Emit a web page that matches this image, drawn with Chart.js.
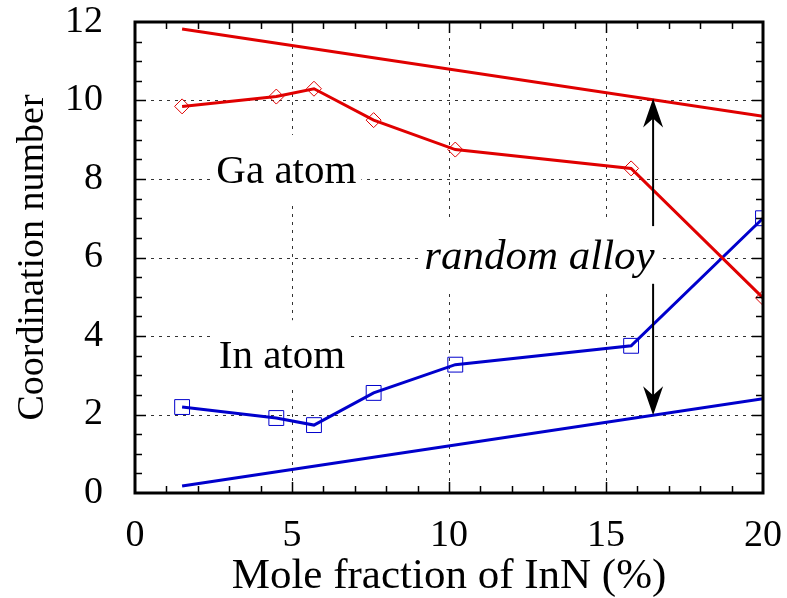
<!DOCTYPE html>
<html>
<head>
<meta charset="utf-8">
<script src="https://cdn.jsdelivr.net/npm/chart.js@4.4.0/dist/chart.umd.min.js"></script>
<style>
    html, body { margin: 0; padding: 0; background: #fff; }
</style>
</head>
<body>
<canvas id="chart" width="787" height="598"></canvas>
<script>
// mole fraction of InN (%) where the coordination numbers were computed
const moleFraction = [1.5, 4.5, 5.7, 7.6, 10.2, 15.8, 20];
const gaAtom = [9.85, 10.1, 10.3, 9.5, 8.75, 8.27, 4.97];
const inAtom = [2.19, 1.91, 1.73, 2.55, 3.27, 3.75, 7.0];

// random alloy reference lines
const randomFraction = [1.5, 20];
const gaRandom = [11.82, 9.6];
const inRandom = [0.18, 2.4];

// arrow between the random alloy lines
const arrowX = 16.5;
const arrowUp = [6.8, 10.05];
const arrowDown = [5.33, 1.98];

const xTicks = [0, 5, 10, 15, 20];
const yTicks = [0, 2, 4, 6, 8, 10, 12];

const serif = 'Liberation Serif';
const red = '#e00000';
const blue = '#0000cc';

const pts = (xs, ys) => xs.map((x, i) => ({ x: x, y: ys[i] }));

// text labels inside the plot: [text, x value, y value of baseline, italic, size]
const notes = [
    ['Ga atom', 4.82, 7.9, false, 41],
    ['In atom', 4.68, 3.18, false, 41],
    ['random alloy', 12.88, 5.7, true, 43],
];

const frame = {
    id: 'frame',
    beforeDatasetsDraw(chart) {
        const { ctx, chartArea: a, scales: { x, y } } = chart;
        ctx.save();
        ctx.strokeStyle = '#333';
        ctx.lineWidth = 1;
        ctx.setLineDash([3, 5]);
        xTicks.slice(1, -1).forEach(v => {
            const px = Math.round(x.getPixelForValue(v)) + 0.5;
            ctx.beginPath(); ctx.moveTo(px, a.top); ctx.lineTo(px, a.bottom); ctx.stroke();
        });
        yTicks.slice(1, -1).forEach(v => {
            const py = Math.round(y.getPixelForValue(v)) + 0.5;
            ctx.beginPath(); ctx.moveTo(a.left, py); ctx.lineTo(a.right, py); ctx.stroke();
        });
        ctx.setLineDash([]);

        // labels sit on white boxes that hide the grid
        ctx.textAlign = 'center';
        ctx.textBaseline = 'alphabetic';
        notes.forEach(([text, vx, vy, italic, size]) => {
            ctx.font = (italic ? 'italic ' : '') + size + 'px "' + serif + '"';
            const cx = x.getPixelForValue(vx);
            const by = y.getPixelForValue(vy);
            const w = ctx.measureText(text).width;
            ctx.fillStyle = '#fff';
            ctx.fillRect(cx - w / 2 - 5, by - 48, w + 10, 68);
            ctx.fillStyle = '#000';
            ctx.fillText(text, cx, by);
        });
        ctx.restore();
    },
    afterDatasetsDraw(chart) {
        const { ctx, chartArea: a, scales: { x, y } } = chart;
        ctx.save();

        // arrows
        const ax = x.getPixelForValue(arrowX);
        const drawArrow = (from, to) => {
            const y0 = y.getPixelForValue(from);
            const y1 = y.getPixelForValue(to);
            const dir = y1 < y0 ? 1 : -1;
            ctx.strokeStyle = '#000';
            ctx.lineWidth = 2;
            ctx.beginPath(); ctx.moveTo(ax, y0); ctx.lineTo(ax, y1 + dir * 12); ctx.stroke();
            ctx.fillStyle = '#000';
            ctx.beginPath();
            ctx.moveTo(ax, y1);
            ctx.lineTo(ax - 10, y1 + dir * 29);
            ctx.lineTo(ax, y1 + dir * 20);
            ctx.lineTo(ax + 10, y1 + dir * 29);
            ctx.closePath();
            ctx.fill();
        };
        drawArrow(arrowUp[0], arrowUp[1]);
        drawArrow(arrowDown[0], arrowDown[1]);

        // inward tick marks on all four sides
        ctx.strokeStyle = '#000';
        ctx.lineWidth = 1.5;
        for (let v = 1; v < 20; v++) {
            const len = v % 5 === 0 ? 11 : 7;
            const px = Math.round(x.getPixelForValue(v)) + 0.5;
            ctx.beginPath();
            ctx.moveTo(px, a.bottom); ctx.lineTo(px, a.bottom - len);
            ctx.moveTo(px, a.top); ctx.lineTo(px, a.top + len);
            ctx.stroke();
        }
        for (let v = 0.5; v < 12; v += 0.5) {
            const len = v % 2 === 0 ? 11 : 7;
            const py = Math.round(y.getPixelForValue(v)) + 0.5;
            ctx.beginPath();
            ctx.moveTo(a.left, py); ctx.lineTo(a.left + len, py);
            ctx.moveTo(a.right, py); ctx.lineTo(a.right - len, py);
            ctx.stroke();
        }

        // frame
        ctx.lineWidth = 3;
        ctx.strokeRect(a.left, a.top, a.right - a.left, a.bottom - a.top);
        ctx.restore();
    }
};

function draw() {
    new Chart(document.getElementById('chart'), {
        type: 'line',
        data: {
            datasets: [
                {
                    label: 'Ga atom',
                    data: pts(moleFraction, gaAtom),
                    borderColor: red,
                    borderWidth: 3,
                    pointStyle: 'rectRot',
                    pointRadius: 7.5,
                    pointBorderWidth: 1,
                    pointBorderColor: red,
                    pointBackgroundColor: 'rgba(0,0,0,0)',
                },
                {
                    label: 'In atom',
                    data: pts(moleFraction, inAtom),
                    borderColor: blue,
                    borderWidth: 3,
                    pointStyle: 'rect',
                    pointRadius: 10.5,
                    pointBorderWidth: 1,
                    pointBorderColor: blue,
                    pointBackgroundColor: 'rgba(0,0,0,0)',
                },
                {
                    label: 'Ga random alloy',
                    data: pts(randomFraction, gaRandom),
                    borderColor: red,
                    borderWidth: 3,
                    pointRadius: 0,
                },
                {
                    label: 'In random alloy',
                    data: pts(randomFraction, inRandom),
                    borderColor: blue,
                    borderWidth: 3,
                    pointRadius: 0,
                },
            ]
        },
        options: {
            responsive: false,
            animation: false,
            devicePixelRatio: 1,
            layout: { padding: { top: 22, right: 24, left: 0, bottom: 0 } },
            plugins: {
                legend: { display: false },
                tooltip: { enabled: false },
            },
            scales: {
                x: {
                    type: 'linear',
                    min: 0,
                    max: 20,
                    afterFit: s => { s.height = 105; s.paddingLeft = 0; s.paddingRight = 0; },
                    afterBuildTicks: s => { s.ticks = xTicks.map(v => ({ value: v })); },
                    ticks: { color: '#000', font: { family: serif, size: 38 }, padding: 12, maxRotation: 0 },
                    grid: { display: false },
                    border: { display: false },
                    title: {
                        display: true,
                        text: 'Mole fraction of InN (%)',
                        color: '#000',
                        font: { family: serif, size: 43, lineHeight: 1 },
                        padding: 0,
                    },
                },
                y: {
                    type: 'linear',
                    min: 0,
                    max: 12,
                    afterFit: s => { s.width = 135; s.paddingTop = 0; s.paddingBottom = 0; },
                    afterBuildTicks: s => { s.ticks = yTicks.map(v => ({ value: v })); },
                    ticks: { color: '#000', font: { family: serif, size: 38 }, padding: 24 },
                    grid: { display: false },
                    border: { display: false },
                    title: {
                        display: true,
                        text: 'Coordination number',
                        color: '#000',
                        font: { family: serif, size: 38, lineHeight: 1 },
                        padding: { top: 14, bottom: 0 },
                    },
                },
            },
        },
        plugins: [frame],
    });
}

Promise.all([
    document.fonts.load('36px "Liberation Serif"'),
    document.fonts.load('italic 36px "Liberation Serif"'),
]).then(draw, draw);
</script>
</body>
</html>
